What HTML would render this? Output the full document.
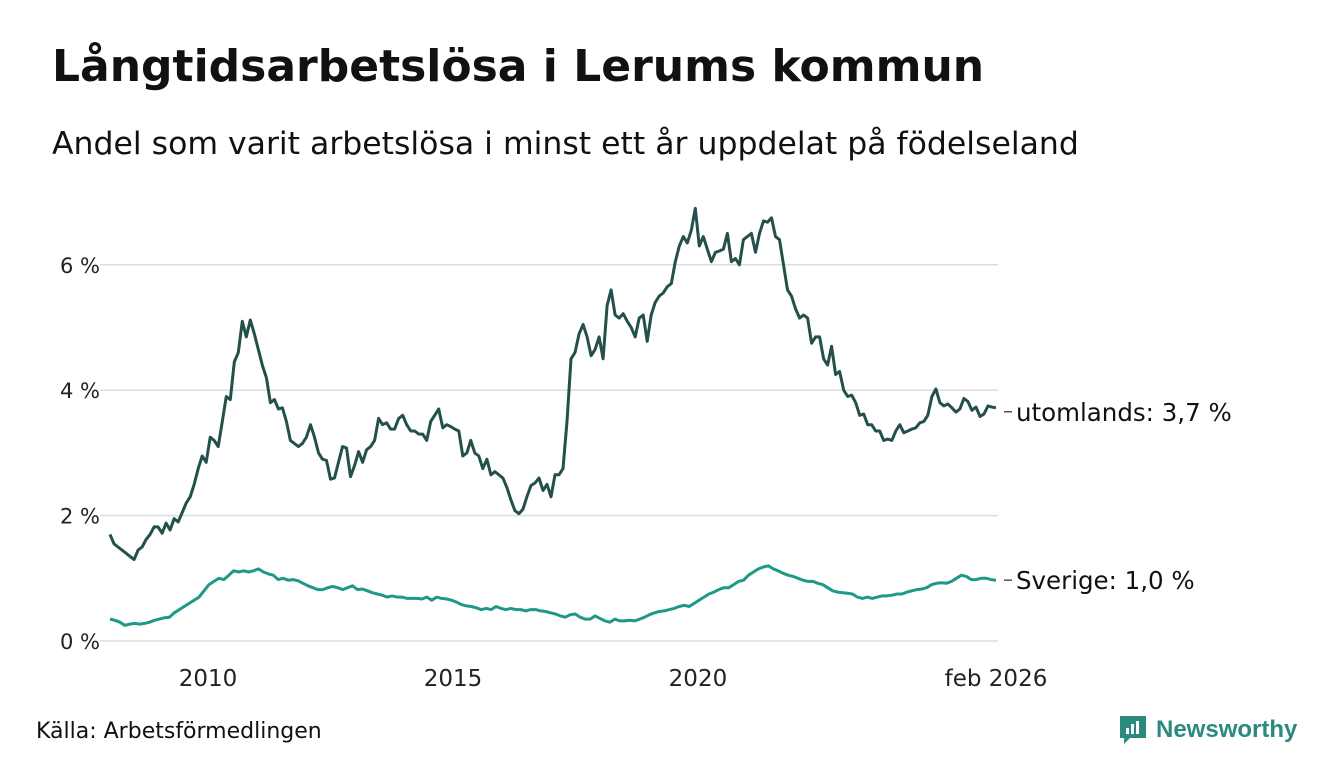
<!DOCTYPE html>
<html><head><meta charset="utf-8">
<style>
body{margin:0;background:#fff;font-family:"DejaVu Sans","Liberation Sans",sans-serif;}
#wrap{position:relative;width:1340px;height:780px;overflow:hidden;}
h1{position:absolute;left:52px;top:41px;margin:0;font-size:44px;font-weight:bold;color:#111;white-space:nowrap;}
.sub{position:absolute;left:52px;top:126px;font-size:31.5px;color:#111;white-space:nowrap;}
.src{position:absolute;left:36px;top:719px;font-size:22px;color:#111;}
.logo{position:absolute;left:1118px;top:714px;display:flex;align-items:center;font-family:"Liberation Sans",sans-serif;}
.logo span{font-size:24px;font-weight:bold;color:#2a8a7e;margin-left:8px;}
</style></head><body>
<div id="wrap">
<h1>Långtidsarbetslösa i Lerums kommun</h1>
<div class="sub">Andel som varit arbetslösa i minst ett år uppdelat på födelseland</div>
<svg id="chart" width="1340" height="780" style="position:absolute;left:0;top:0"></svg>
<div class="src">Källa: Arbetsförmedlingen</div>
<div class="logo">
<svg width="30" height="32" viewBox="0 0 30 32"><path d="M2 2h26v22H12l-6 6v-6H2z" fill="#2a8a7e"/><rect x="8" y="14" width="3" height="6" fill="#fff"/><rect x="13" y="10" width="3" height="10" fill="#fff"/><rect x="18" y="7" width="3" height="13" fill="#fff"/></svg>
<span>Newsworthy</span></div>
</div>
<script>
const yTicks=[0,2,4,6];
const yTickLabels=["0 %","2 %","4 %","6 %"];
const xTicks=[2010,2015,2020,2026.083];
const xTickLabels=["2010","2015","2020","feb 2026"];
const startYear=2008.0, endYear=2026.083;
const utomlands=[1.7,1.55,1.5,1.45,1.4,1.35,1.3,1.45,1.5,1.62,1.7,1.82,1.82,1.72,1.88,1.77,1.95,1.9,2.05,2.2,2.3,2.5,2.75,2.95,2.85,3.25,3.2,3.1,3.5,3.9,3.85,4.45,4.6,5.1,4.85,5.12,4.9,4.65,4.4,4.2,3.8,3.85,3.7,3.72,3.5,3.2,3.15,3.1,3.15,3.25,3.45,3.25,3.0,2.9,2.88,2.58,2.6,2.85,3.1,3.08,2.62,2.8,3.02,2.85,3.05,3.1,3.2,3.55,3.45,3.48,3.38,3.38,3.55,3.6,3.45,3.35,3.35,3.3,3.3,3.2,3.5,3.6,3.7,3.4,3.45,3.42,3.38,3.35,2.95,3.0,3.2,3.0,2.95,2.75,2.9,2.65,2.7,2.65,2.6,2.45,2.25,2.08,2.03,2.1,2.3,2.48,2.52,2.6,2.4,2.5,2.3,2.65,2.65,2.75,3.5,4.5,4.6,4.9,5.05,4.85,4.55,4.65,4.85,4.5,5.35,5.6,5.2,5.15,5.22,5.1,5.0,4.85,5.15,5.2,4.78,5.2,5.4,5.5,5.55,5.65,5.7,6.05,6.3,6.45,6.35,6.55,6.9,6.3,6.45,6.25,6.05,6.2,6.22,6.25,6.5,6.05,6.1,6.0,6.4,6.45,6.5,6.2,6.5,6.7,6.68,6.75,6.45,6.4,6.0,5.6,5.5,5.3,5.15,5.2,5.15,4.75,4.85,4.85,4.5,4.4,4.7,4.25,4.3,4.0,3.9,3.92,3.8,3.6,3.62,3.45,3.45,3.35,3.35,3.2,3.22,3.2,3.35,3.45,3.32,3.35,3.38,3.4,3.48,3.5,3.6,3.9,4.02,3.8,3.75,3.78,3.72,3.65,3.7,3.87,3.82,3.68,3.73,3.58,3.62,3.75,3.73,3.72];
const sverige=[0.35,0.33,0.3,0.25,0.27,0.28,0.27,0.28,0.3,0.33,0.35,0.37,0.38,0.45,0.5,0.55,0.6,0.65,0.7,0.8,0.9,0.95,1.0,0.98,1.05,1.12,1.1,1.12,1.1,1.12,1.15,1.1,1.07,1.05,0.98,1.0,0.97,0.98,0.96,0.92,0.88,0.85,0.82,0.82,0.85,0.87,0.85,0.82,0.85,0.88,0.82,0.83,0.8,0.77,0.75,0.73,0.7,0.72,0.7,0.7,0.68,0.68,0.68,0.67,0.7,0.65,0.7,0.68,0.67,0.65,0.62,0.58,0.56,0.55,0.53,0.5,0.52,0.5,0.55,0.52,0.5,0.52,0.5,0.5,0.48,0.5,0.5,0.48,0.47,0.45,0.43,0.4,0.38,0.42,0.43,0.38,0.35,0.35,0.4,0.36,0.32,0.3,0.35,0.32,0.32,0.33,0.32,0.35,0.38,0.42,0.45,0.47,0.48,0.5,0.52,0.55,0.57,0.55,0.6,0.65,0.7,0.75,0.78,0.82,0.85,0.85,0.9,0.95,0.97,1.05,1.1,1.15,1.18,1.2,1.15,1.12,1.08,1.05,1.03,1.0,0.97,0.95,0.95,0.92,0.9,0.85,0.8,0.78,0.77,0.76,0.75,0.7,0.68,0.7,0.68,0.7,0.72,0.72,0.73,0.75,0.75,0.78,0.8,0.82,0.83,0.85,0.9,0.92,0.93,0.92,0.95,1.0,1.05,1.03,0.98,0.98,1.0,1.0,0.98,0.97];
const seriesLabels=["utomlands: 3,7 %","Sverige: 1,0 %"];

const NS="http://www.w3.org/2000/svg";
const svg=document.getElementById('chart');
const X0=110,X1=996,Y0=641,PX=62.7;
const FONT='"DejaVu Sans","Liberation Sans",sans-serif';
function xs(yr){return X0+(yr-startYear)/(endYear-startYear)*(X1-X0);}
function ys(v){return Y0-v*PX;}
function mk(t,a){const e=document.createElementNS(NS,t);for(const k in a)e.setAttribute(k,a[k]);svg.appendChild(e);return e;}
yTicks.forEach((v,i)=>{
 const l=mk('line',{x1:100,x2:998,y1:ys(v),y2:ys(v),stroke:'#dcdce0','stroke-width':1.5});
 
 
 const t=mk('text',{x:100,y:ys(v)+8,'text-anchor':'end','font-size':21,fill:'#222','font-family':FONT});
 t.textContent=yTickLabels[i];
 
 
});
xTicks.forEach((v,i)=>{
 const t=mk('text',{x:xs(v),y:686,'text-anchor':'middle','font-size':23,fill:'#222','font-family':FONT});
 t.textContent=xTickLabels[i];
 
 
});
function pathFor(arr){const n=arr.length;return arr.map((v,i)=>(i?'L':'M')+xs(startYear+i/(n-1)*(endYear-startYear)).toFixed(1)+','+ys(v).toFixed(1)).join('');}
const p1=mk('path',{d:pathFor(sverige),fill:'none',stroke:'#1f9987','stroke-width':3,'stroke-linejoin':'round'});


const p2=mk('path',{d:pathFor(utomlands),fill:'none',stroke:'#23504a','stroke-width':3,'stroke-linejoin':'round'});


[[utomlands,0],[sverige,1]].forEach(([arr,i])=>{
 const y=ys(arr[arr.length-1]);
 const ly=i==0?y+4:y;
 const l=mk('line',{x1:1004,x2:1012,y1:ly,y2:ly,stroke:'#555','stroke-width':1.5});
 
 
 const t=mk('text',{x:1016,y:ly+9,'font-size':24.5,fill:'#111','font-family':FONT});
 t.textContent=seriesLabels[i];
 
 
});
</script>
</body></html>
